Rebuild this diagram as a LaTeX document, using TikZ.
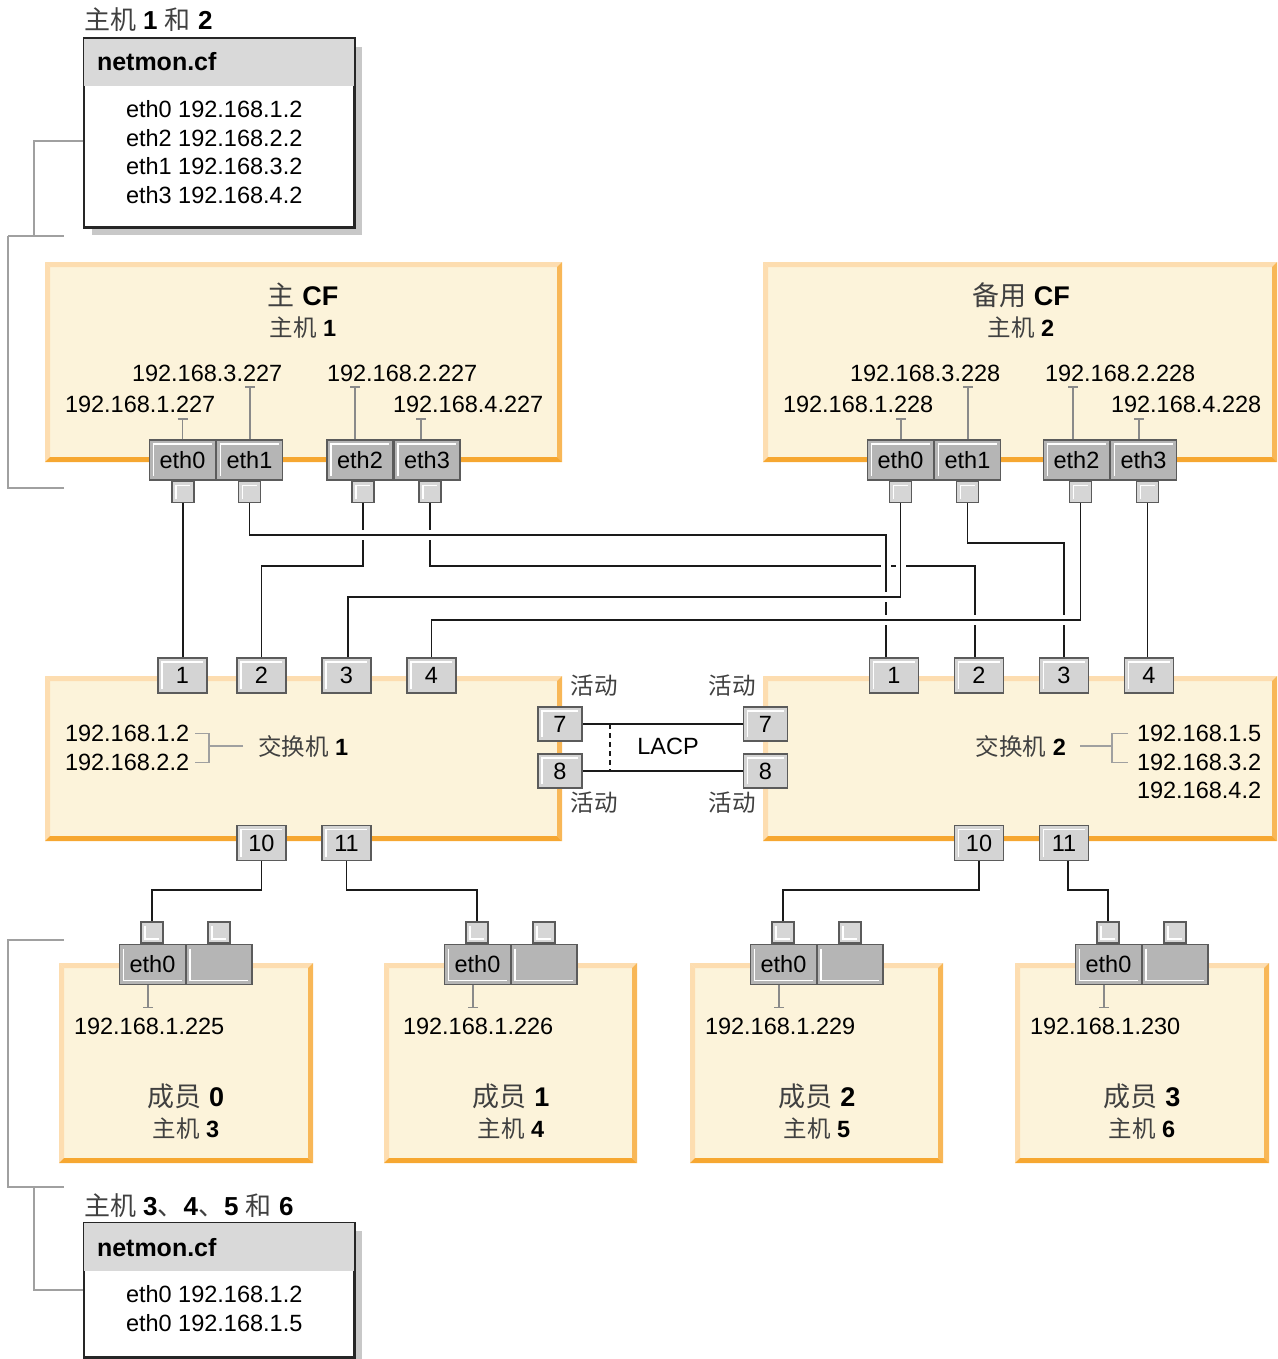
\documentclass[tikz,border=0pt]{standalone}
\usepackage{fontspec}
\setmainfont{Liberation Sans}
\newfontfamily\cjk{Noto Sans CJK SC}
\usetikzlibrary{arrows.meta}
\pgfdeclarelayer{boxes}
\pgfdeclarelayer{wires}
\pgfsetlayers{boxes,wires,main}
\definecolor{cream}{HTML}{FCF3DA}
\definecolor{bvtop}{HTML}{FDDDB0}
\definecolor{bvright}{HTML}{F8B757}
\definecolor{bvbot}{HTML}{F6A731}
\definecolor{portfill}{HTML}{B5B5B5}
\definecolor{portdraw}{HTML}{5B5B5B}
\definecolor{connfill}{HTML}{D6D6D6}
\definecolor{swfill}{HTML}{D4D4D4}
\definecolor{tickc}{HTML}{8A8A8A}
\definecolor{brkc}{HTML}{A0A0A0}
\definecolor{shadowc}{HTML}{C8C8C8}
\definecolor{hdrc}{HTML}{D9D9D9}
\definecolor{zhc}{HTML}{404040}
\definecolor{cablec}{HTML}{1A1A1A}
\newcommand\fs[1]{\fontsize{#1}{#1}\selectfont}
\newcommand\zh[1]{{\cjk\color{zhc}#1}}
\newcommand\bevel[4]{%
  \fill[cream] (#1,#2) rectangle (#3,#4);
  \fill[bvtop] (#1,#2) -- (#3,#2) -- (#3-5,#2+5) -- (#1+5,#2+5) -- cycle;
  \fill[bvtop] (#1,#2) -- (#1+5,#2+5) -- (#1+5,#4-5) -- (#1,#4) -- cycle;
  \fill[bvright] (#3,#2) -- (#3,#4) -- (#3-5,#4-5) -- (#3-5,#2+5) -- cycle;
  \fill[bvbot] (#1,#4) -- (#3,#4) -- (#3-5,#4-5) -- (#1+5,#4-5) -- cycle;
}
\tikzset{
  lbl/.style={inner sep=0pt, outer sep=0pt, font=\fs{23.5}, text=black, anchor=base west},
  ttl/.style={inner sep=0pt, outer sep=0pt, font=\fs{27}, anchor=base},
  sub/.style={inner sep=0pt, outer sep=0pt, font=\fs{23.5}, anchor=base},
  hltl/.style={path picture={\draw[white, line width=1.3pt]
      ([shift={(4pt,4pt)}]path picture bounding box.south west) --
      ([shift={(4pt,-4pt)}]path picture bounding box.north west) --
      ([shift={(-4pt,-4pt)}]path picture bounding box.north east);}},
  hlbl/.style={path picture={\draw[white, line width=1.3pt]
      ([shift={(4pt,-4pt)}]path picture bounding box.north west) --
      ([shift={(4pt,4pt)}]path picture bounding box.south west) --
      ([shift={(-4pt,4pt)}]path picture bounding box.south east);}},
  ethp/.style={draw=portdraw, fill=portfill, line width=1.8pt, minimum width=66pt,
      minimum height=40pt, inner sep=0pt, font=\fs{23.5}, hltl},
  methp/.style={ethp, hlbl},
  conn/.style={draw=portdraw, fill=connfill, line width=1.6pt, minimum width=22pt,
      minimum height=21pt, inner sep=0pt, hltl},
  mconn/.style={conn, hlbl},
  swp/.style={draw=portdraw, fill=swfill, line width=1.8pt, minimum width=49pt,
      minimum height=35pt, inner sep=0pt, font=\fs{23.5}, hltl},
  swps/.style={swp, minimum width=44pt, minimum height=34pt},
  cable/.style={draw=cablec, line width=1.8pt},
  halo/.style={preaction={draw=white, line width=10pt}},
  tick/.style={draw=tickc, line width=1.4pt, -{Bar[width=10pt,line width=1.4pt]}},
  brk/.style={draw=brkc, line width=1.5pt},
  nmbox/.style={draw=black!85, fill=white, line width=1.5pt, inner sep=0pt},
}
\begin{document}
\begin{tikzpicture}[x=1pt,y=-1pt]
\useasboundingbox (0,0) rectangle (1277,1359);

% ---------- helper coordinates ----------
\coordinate (y535) at (0,535);
\coordinate (y543) at (0,543);
\coordinate (y566) at (0,566);
\coordinate (y597) at (0,597);
\coordinate (y620) at (0,620);
\coordinate (y890) at (0,890);

% ---------- netmon boxes ----------
\fill[shadowc] (92,47) rectangle (362,235);
\node[nmbox, minimum width=270pt, minimum height=188pt] (nm1) at (219,133) {};
\fill[hdrc] (nm1.north west) rectangle ([yshift=-48pt]nm1.north east);
\draw[black!85, line width=1.5pt] (nm1.north west) rectangle (nm1.south east);
\node[lbl, font=\fs{26}] (nm1t) at (84,30) {\zh{主机} \textbf{1} \zh{和} \textbf{2}};
\node[lbl, font=\fs{25}\bfseries] (nm1h) at (97,71) {netmon.cf};
\node[lbl] (nm1a) at (126,117.5) {eth0 192.168.1.2};
\node[lbl] (nm1b) at (126,146.5) {eth2 192.168.2.2};
\node[lbl] (nm1c) at (126,174.5) {eth1 192.168.3.2};
\node[lbl] (nm1d) at (126,203.5) {eth3 192.168.4.2};

\fill[shadowc] (92,1231) rectangle (362,1359);
\node[nmbox, minimum width=270pt, minimum height=134pt] (nm2) at (219,1290) {};
\fill[hdrc] (nm2.north west) rectangle ([yshift=-49pt]nm2.north east);
\draw[black!85, line width=1.5pt] (nm2.north west) rectangle (nm2.south east);
\node[lbl, font=\fs{26}] (nm2t) at (84,1215) {\zh{主机} \textbf{3}\zh{、}\textbf{4}\zh{、}\textbf{5} \zh{和} \textbf{6}};
\node[lbl, font=\fs{25}\bfseries] (nm2h) at (97,1256) {netmon.cf};
\node[lbl] (nm2a) at (126,1302.5) {eth0 192.168.1.2};
\node[lbl] (nm2b) at (126,1331.5) {eth0 192.168.1.5};

% brackets
\draw[brk] ([yshift=-8pt]nm1.west) -| (34,236);
\draw[brk] (8,236) -- (64,236);
\draw[brk] (64,488) -- (8,488) -- (8,236);
\draw[brk] (64,940) -- (8,940) -- (8,1187) -- (64,1187);
\draw[brk] (34,1187) |- (nm2.west);

% ---------- boxes ----------
\begin{pgfonlayer}{boxes}
\bevel{45}{262}{562}{462}
\bevel{763}{262}{1277}{462}
\bevel{45}{676}{562}{841}
\bevel{763}{676}{1277}{841}
\bevel{59}{963}{313}{1163}
\bevel{384}{963}{637}{1163}
\bevel{690}{963}{943}{1163}
\bevel{1015}{963}{1269}{1163}
\end{pgfonlayer}

% ---------- CF texts ----------
\node[ttl] (cf1t) at (303,305) {\zh{主} \textbf{CF}};
\node[sub] (cf1s) at (303,336) {\zh{主机} \textbf{1}};
\node[lbl] (ipL3) at (132,381.5) {192.168.3.227};
\node[lbl] (ipL1) at (65,412.5) {192.168.1.227};
\node[lbl] (ipL2) at (327,381.5) {192.168.2.227};
\node[lbl] (ipL4) at (393,412.5) {192.168.4.227};

\node[ttl] (cf2t) at (1021,305) {\zh{备用} \textbf{CF}};
\node[sub] (cf2s) at (1021,336) {\zh{主机} \textbf{2}};
\node[lbl] (ipR3) at (850,381.5) {192.168.3.228};
\node[lbl] (ipR1) at (783,412.5) {192.168.1.228};
\node[lbl] (ipR2) at (1045,381.5) {192.168.2.228};
\node[lbl] (ipR4) at (1111,412.5) {192.168.4.228};

% ---------- CF ports ----------
\node[ethp] (Le0) at (182.5,460) {eth0};
\node[ethp] (Le1) at (249.5,460) {eth1};
\node[ethp] (Le2) at (360,460) {eth2};
\node[ethp] (Le3) at (427,460) {eth3};
\node[ethp] (Re0) at (900.5,460) {eth0};
\node[ethp] (Re1) at (967.5,460) {eth1};
\node[ethp] (Re2) at (1076.5,460) {eth2};
\node[ethp] (Re3) at (1143.5,460) {eth3};

\draw[tick] (Le0.north) -- ++(0,-21);
\draw[tick] ([xshift=0.5pt]Le1.north) -- ++(0,-53);
\draw[tick] ([xshift=-5pt]Le2.north) -- ++(0,-53);
\draw[tick] ([xshift=-6pt]Le3.north) -- ++(0,-21);
\draw[tick] ([xshift=0.5pt]Re0.north) -- ++(0,-21);
\draw[tick] ([xshift=0.5pt]Re1.north) -- ++(0,-53);
\draw[tick] ([xshift=-3.5pt]Re2.north) -- ++(0,-53);
\draw[tick] ([xshift=-4.5pt]Re3.north) -- ++(0,-21);

% connectors under CF ports
\node[conn] (Lc0) at (183,492) {};
\node[conn] (Lc1) at (249.5,492) {};
\node[conn] (Lc2) at (363,492) {};
\node[conn] (Lc3) at (430,492) {};
\node[conn] (Rc0) at (900.5,492) {};
\node[conn] (Rc1) at (967.5,492) {};
\node[conn] (Rc2) at (1080.5,492) {};
\node[conn] (Rc3) at (1147.5,492) {};

% ---------- switch texts ----------
\node[lbl] (s1a) at (65,741.5) {192.168.1.2};
\node[lbl] (s1b) at (65,770.5) {192.168.2.2};
\node[lbl] (s1t) at (258,755) {\zh{交换机} \textbf{1}};
\draw[brk] ([xshift=6pt]s1a.east) -| ([xshift=20pt]s1b.east) -- ([xshift=6pt]s1b.east);
\draw[brk] ([xshift=-15pt]s1t.west) -- ([xshift=20pt]s1a.east |- s1t.west);

\node[lbl, anchor=base east] (s2t) at (1066,755) {\zh{交换机} \textbf{2}};
\node[lbl] (s2a) at (1137,741.5) {192.168.1.5};
\node[lbl] (s2b) at (1137,770.5) {192.168.3.2};
\node[lbl] (s2c) at (1137,798.5) {192.168.4.2};
\draw[brk] ([xshift=-9pt]s2a.west) -| ([xshift=-25pt]s2b.west) -- ([xshift=-9pt]s2b.west);
\draw[brk] ([xshift=14pt]s2t.east) -- ([xshift=-25pt]s2a.west |- s2t.east);

\node[sub] (a1) at (594,694.5) {\zh{活动}};
\node[sub] (a2) at (732,694.5) {\zh{活动}};
\node[sub] (a3) at (594,811.5) {\zh{活动}};
\node[sub] (a4) at (732,811.5) {\zh{活动}};
\node[sub] (lacp) at (668,754.5) {LACP};

% ---------- switch ports ----------
\node[swp] (S1p1) at (182.5,675.5) {1};
\node[swp] (S1p2) at (261.5,675.5) {2};
\node[swp] (S1p3) at (346.5,675.5) {3};
\node[swp] (S1p4) at (431.5,675.5) {4};
\node[swp] (S2p1) at (894,675.5) {1};
\node[swp] (S2p2) at (979,675.5) {2};
\node[swp] (S2p3) at (1064,675.5) {3};
\node[swp] (S2p4) at (1149,675.5) {4};
\node[swp] (S1p10) at (261.5,843) {10};
\node[swp] (S1p11) at (346.5,843) {11};
\node[swp] (S2p10) at (979,843) {10};
\node[swp] (S2p11) at (1064,843) {11};
\node[swps] (S1p7) at (560,724) {7};
\node[swps] (S1p8) at (560,771) {8};
\node[swps] (S2p7) at (765.5,724) {7};
\node[swps] (S2p8) at (765.5,771) {8};

% ---------- members ----------
\foreach \L/\n/\ip/\m/\h/\ix in {59/0/225/0/3/15, 384/1/226/1/4/19, 690/2/229/2/5/15, 1015/3/230/3/6/15}{
  \node[methp] (M\n e) at (\L+93.5,964.5) {eth0};
  \node[methp] (M\n b) at (\L+160,964.5) {};
  \node[mconn] (M\n c) at (\L+93,932.5) {};
  \node[mconn] (M\n d) at (\L+160,932.5) {};
  \draw[tick] ([xshift=-4.5pt]M\n e.south) -- ++(0,23);
  \node[lbl] (M\n ip) at (\L+\ix,1034.5) {192.168.1.\ip};
  \node[ttl] (M\n t) at (\L+127,1106) {\zh{成员} \textbf{\m}};
  \node[sub] (M\n s) at (\L+127,1137) {\zh{主机} \textbf{\h}};
}

% ---------- cables (layer under ports) ----------
\begin{pgfonlayer}{wires}
\draw[cable] (Lc0.south) -- (Lc0.south |- S1p1.north);
\draw[cable] (Lc2.south) |- (S1p2.north |- y566) -- (S1p2.north);
\draw[cable] (Lc3.south) |- ([xshift=-4pt]S2p2.north |- y566) -- ([xshift=-4pt]S2p2.north);
\draw[cable] (Rc1.south) |- (S2p3.north |- y543) -- (S2p3.north);
\draw[cable] (Rc3.south) -- (Rc3.south |- S2p4.north);
\draw[cable, halo] (Lc1.south) |- ([xshift=-8pt]S2p1.north |- y535) -- ([xshift=-8pt]S2p1.north);
\draw[cable, halo] (Rc0.south) |- ([xshift=1.5pt]S1p3.north |- y597) -- ([xshift=1.5pt]S1p3.north);
\draw[cable, halo] (Rc2.south) |- (S1p4.north |- y620) -- (S1p4.north);

\draw[cable] (S1p10.south) |- (M0c.north |- y890) -- (M0c.north);
\draw[cable] (S1p11.south) |- (M1c.north |- y890) -- (M1c.north);
\draw[cable] (S2p10.south) |- (M2c.north |- y890) -- (M2c.north);
\draw[cable] ([xshift=4pt]S2p11.south) |- (M3c.north |- y890) -- (M3c.north);

\draw[cable] (S1p7.east) -- (S2p7.west);
\draw[cable] (S1p8.east) -- (S2p8.west);
\draw[cable, line width=1.5pt, dash pattern=on 5pt off 4pt] ([xshift=27pt]S1p7.east) -- ([xshift=27pt]S1p8.east);
\end{pgfonlayer}
\end{tikzpicture}
\end{document}
